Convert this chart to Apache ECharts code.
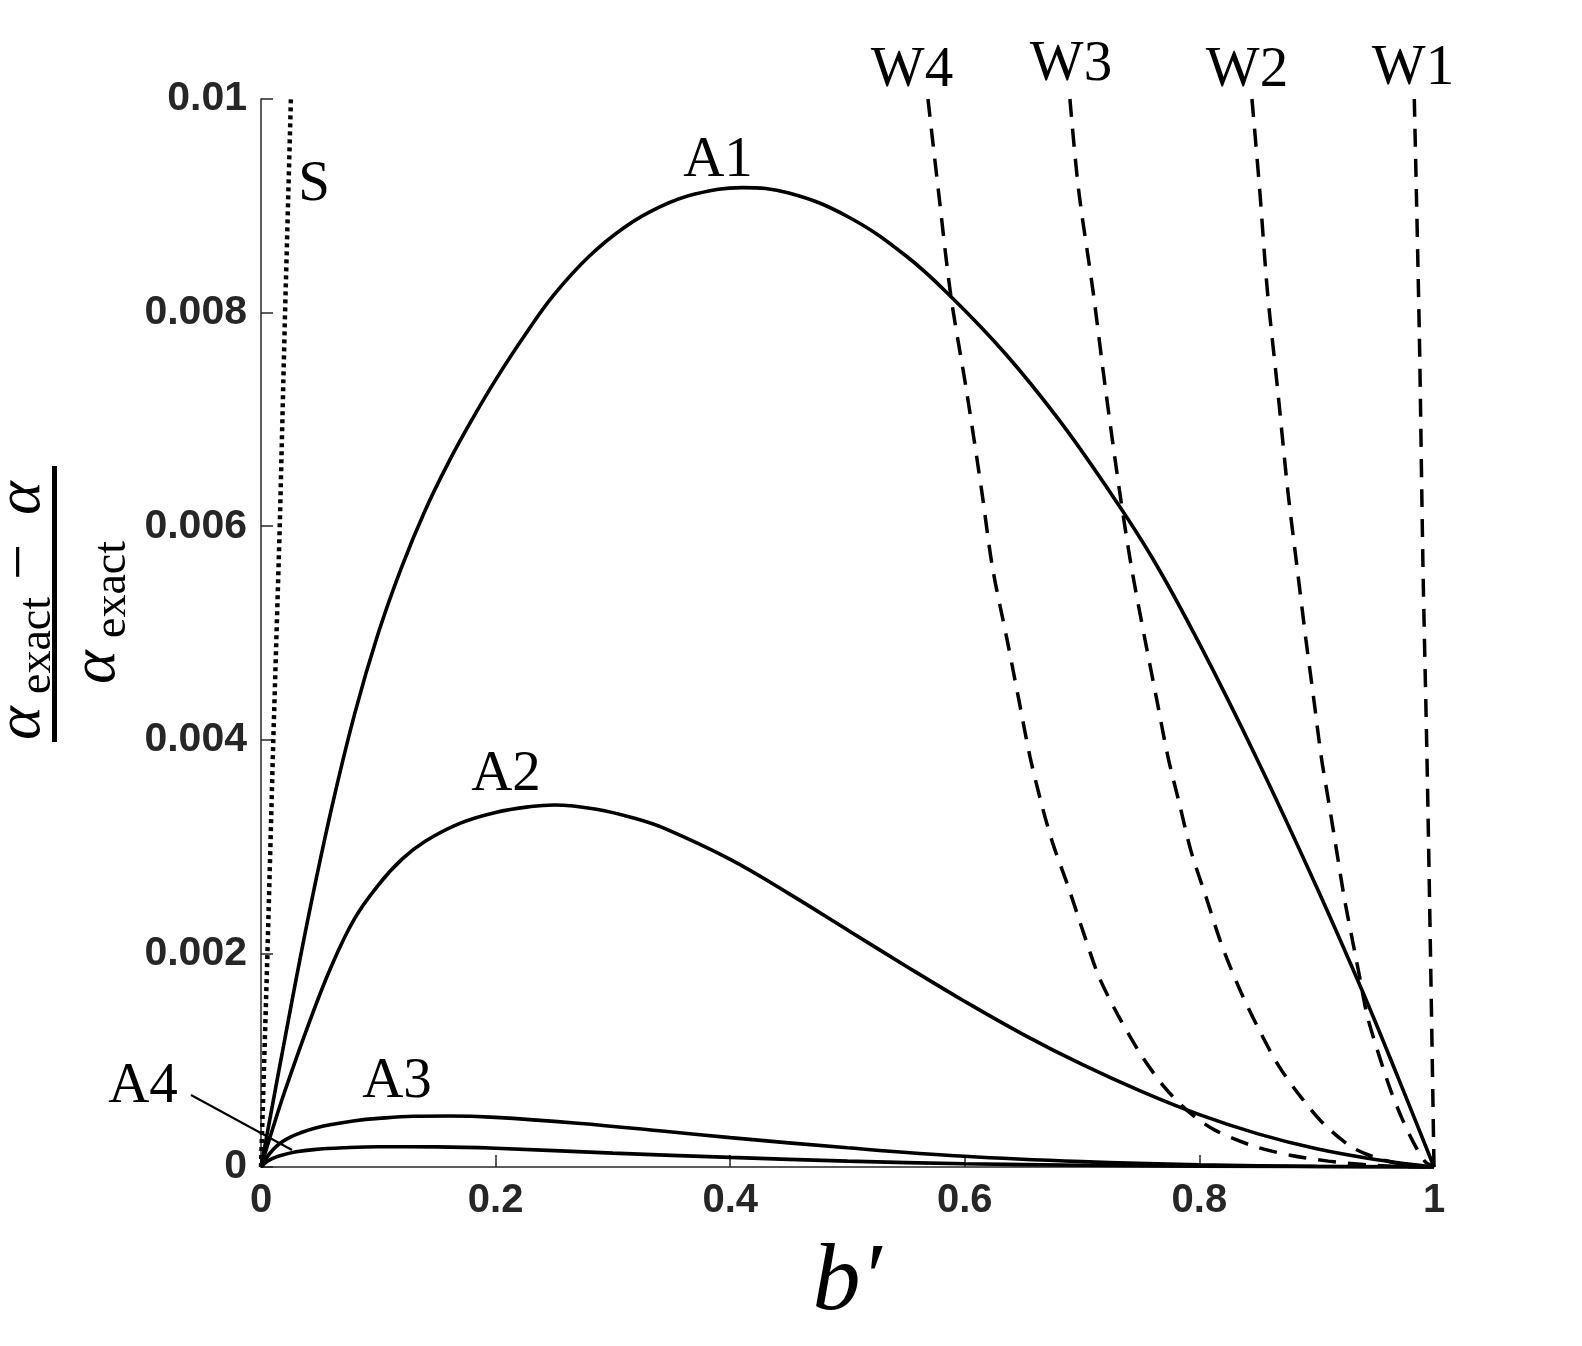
<!DOCTYPE html>
<html>
<head>
<meta charset="utf-8">
<script src="https://cdn.jsdelivr.net/npm/echarts/dist/echarts.min.js"></script>
<style>
html, body { margin: 0; padding: 0; background: #fff; }
#chart { width: 1582px; height: 1346px; }
</style>
</head>
<body>
<div id="chart"></div>
<script>
// 坐标轴刻度
var xTicks = [0, 0.2, 0.4, 0.6, 0.8, 1];
var yTicks = [0, 0.002, 0.004, 0.006, 0.008, 0.01];

// 曲线数据 [b', 相对误差]
var curveA1 = [[0, 0], [0.02, 1.18e-3], [0.04, 2.32e-3], [0.06, 3.35e-3], [0.08, 4.25e-3],
    [0.10, 5.00e-3], [0.12, 5.62e-3], [0.14, 6.15e-3], [0.16, 6.60e-3], [0.18, 7.00e-3],
    [0.20, 7.37e-3], [0.225, 7.79e-3], [0.25, 8.17e-3], [0.28, 8.53e-3], [0.31, 8.80e-3],
    [0.34, 8.99e-3], [0.37, 9.11e-3], [0.41, 9.17e-3], [0.45, 9.12e-3], [0.50, 8.90e-3],
    [0.55, 8.53e-3], [0.59, 8.13e-3], [0.635, 7.61e-3], [0.68, 7.00e-3], [0.72, 6.38e-3],
    [0.76, 5.70e-3], [0.80, 4.90e-3], [0.85, 3.80e-3], [0.90, 2.62e-3], [0.94, 1.62e-3],
    [0.97, 0.82e-3], [1.0, 0]];
var curveA2 = [[0, 0], [0.01, 0.36e-3], [0.02, 0.70e-3], [0.04, 1.32e-3], [0.06, 1.88e-3],
    [0.08, 2.33e-3], [0.10, 2.64e-3], [0.12, 2.88e-3], [0.14, 3.05e-3], [0.17, 3.22e-3],
    [0.20, 3.32e-3], [0.23, 3.375e-3], [0.25, 3.39e-3], [0.286, 3.35e-3], [0.32, 3.26e-3],
    [0.344, 3.17e-3], [0.40, 2.88e-3], [0.45, 2.56e-3], [0.50, 2.22e-3], [0.55, 1.88e-3],
    [0.60, 1.55e-3], [0.65, 1.24e-3], [0.70, 0.96e-3], [0.75, 0.71e-3], [0.80, 0.49e-3],
    [0.85, 0.31e-3], [0.90, 0.17e-3], [0.95, 0.07e-3], [1.0, 0]];
var curveA3 = [[0, 0], [0.005, 0.09e-3], [0.01, 0.16e-3], [0.016, 0.22e-3], [0.025, 0.28e-3],
    [0.035, 0.325e-3], [0.045, 0.36e-3], [0.06, 0.397e-3], [0.08, 0.433e-3], [0.10, 0.455e-3],
    [0.13, 0.475e-3], [0.16, 0.478e-3], [0.2, 0.465e-3], [0.27, 0.41e-3], [0.344, 0.335e-3],
    [0.4, 0.275e-3], [0.5, 0.18e-3], [0.6, 0.10e-3], [0.7, 0.05e-3], [0.8, 0.02e-3],
    [0.9, 0.006e-3], [1.0, 0]];
var curveA4 = [[0, 0], [0.005, 0.05e-3], [0.01, 0.08e-3], [0.016, 0.105e-3], [0.03, 0.142e-3],
    [0.045, 0.163e-3], [0.07, 0.18e-3], [0.10, 0.19e-3], [0.15, 0.188e-3], [0.2, 0.175e-3],
    [0.3, 0.13e-3], [0.4, 0.09e-3], [0.5, 0.055e-3], [0.6, 0.03e-3], [0.7, 0.017e-3],
    [0.8, 0.008e-3], [1.0, 0]];
var curveS = [[0, 0], [0.0055, 2.0e-3], [0.0105, 4.0e-3], [0.016, 6.0e-3], [0.0205, 8.0e-3], [0.0255, 10.0e-3]];
var curveW4 = [[0.5686, 10e-3], [0.5774, 9.15e-3], [0.5882, 8.15e-3], [0.6013, 7.28e-3], [0.6143, 6.34e-3],
    [0.6235, 5.62e-3], [0.636, 4.94e-3], [0.6458, 4.39e-3], [0.6556, 3.84e-3], [0.6654, 3.40e-3],
    [0.675, 3.03e-3], [0.688, 2.63e-3], [0.7013, 2.19e-3], [0.7144, 1.78e-3], [0.7307, 1.42e-3],
    [0.7503, 1.05e-3], [0.770, 0.75e-3], [0.7895, 0.53e-3], [0.8124, 0.35e-3], [0.845, 0.20e-3],
    [0.8775, 0.11e-3], [0.910, 0.055e-3], [0.943, 0.02e-3], [0.986, 0], [1.0, 0]];
var curveW3 = [[0.6896, 10e-3], [0.697, 9.15e-3], [0.7092, 8.21e-3], [0.720, 7.28e-3], [0.7318, 6.34e-3],
    [0.742, 5.62e-3], [0.7536, 4.94e-3], [0.7634, 4.39e-3], [0.7732, 3.84e-3], [0.783, 3.40e-3],
    [0.7928, 2.96e-3], [0.8059, 2.52e-3], [0.819, 2.08e-3], [0.8353, 1.64e-3], [0.8516, 1.27e-3],
    [0.868, 0.94e-3], [0.8876, 0.64e-3], [0.9072, 0.39e-3], [0.9333, 0.165e-3], [0.966, 0.04e-3],
    [0.995, 0], [1.0, 0]];
var curveW2 = [[0.8448, 10e-3], [0.8514, 9.15e-3], [0.8579, 8.21e-3], [0.8667, 7.28e-3], [0.8753, 6.34e-3],
    [0.8832, 5.62e-3], [0.8908, 4.94e-3], [0.8974, 4.39e-3], [0.9039, 3.84e-3], [0.9105, 3.40e-3],
    [0.917, 2.96e-3], [0.9235, 2.52e-3], [0.930, 2.15e-3], [0.9366, 1.78e-3], [0.943, 1.42e-3],
    [0.953, 1.05e-3], [0.963, 0.72e-3], [0.9725, 0.46e-3], [0.982, 0.24e-3], [0.992, 0.055e-3], [1.0, 0]];
var curveW1 = [[0.9832, 10e-3], [0.9875, 7.8e-3], [0.9906, 5.62e-3], [0.994, 3.84e-3], [0.997, 2.0e-3], [1.0, 0]];

var tickFont = '"Liberation Sans", Arial, Helvetica, sans-serif';
var mathFont = '"Liberation Serif", "Times New Roman", serif';

var chart = echarts.init(document.getElementById('chart'));

// 线型
function solid(name, data) {
    return {
        name: name, type: 'line', data: data, showSymbol: false, smooth: 0.4, z: 4,
        lineStyle: { color: '#000', width: 3.6 }
    };
}
function dashed(name, data) {
    return {
        name: name, type: 'line', data: data, showSymbol: false, smooth: 0.3, z: 3,
        lineStyle: { color: '#000', width: 3.5, type: [18, 12] }
    };
}

// 曲线标注
function curveLabel(text, x, y) {
    return {
        type: 'text', x: x, y: y, z: 10,
        style: {
            text: text, fontFamily: mathFont, fontSize: 57, fill: '#000',
            align: 'center', verticalAlign: 'middle', textAlign: 'center', textVerticalAlign: 'middle'
        }
    };
}

// 纵轴分式中的文字（按基线放置）
function mathText(text, x, baseline, size, italic) {
    return {
        type: 'text', x: x, y: baseline - 0.32 * size,
        style: {
            text: text, fontFamily: mathFont, fontSize: size, fontStyle: italic ? 'italic' : 'normal',
            fill: '#000', align: 'left', verticalAlign: 'middle', textAlign: 'left', textVerticalAlign: 'middle'
        }
    };
}

var option = {
    animation: false,
    backgroundColor: '#fff',
    grid: { left: 261, right: 148, top: 99, bottom: 179, containLabel: false, outerBoundsMode: 'none' },
    xAxis: {
        type: 'value',
        min: xTicks[0], max: xTicks[xTicks.length - 1], interval: 0.2,
        axisLine: { show: true, lineStyle: { color: '#262626', width: 1.5 } },
        axisTick: { show: true, inside: true, length: 12, lineStyle: { color: '#262626', width: 1.5 } },
        splitLine: { show: false },
        axisLabel: { color: '#262626', fontFamily: tickFont, fontWeight: 'bold', fontSize: 40, margin: 14 }
    },
    yAxis: {
        type: 'value',
        min: yTicks[0], max: yTicks[yTicks.length - 1], interval: 0.002,
        axisLine: { show: true, lineStyle: { color: '#262626', width: 1.5 } },
        axisTick: { show: true, inside: true, length: 12, lineStyle: { color: '#262626', width: 1.5 } },
        splitLine: { show: false },
        axisLabel: { color: '#262626', fontFamily: tickFont, fontWeight: 'bold', fontSize: 41, margin: 14 }
    },
    series: [
        {
            name: 'S', type: 'line', data: curveS, showSymbol: false, z: 3,
            lineStyle: { color: '#000', width: 4.5, type: [4, 4], cap: 'butt' }
        },
        dashed('W4', curveW4),
        dashed('W3', curveW3),
        dashed('W2', curveW2),
        dashed('W1', curveW1),
        solid('A1', curveA1),
        solid('A2', curveA2),
        solid('A3', curveA3),
        solid('A4', curveA4)
    ],
    graphic: [
        curveLabel('A1', 718, 161),
        curveLabel('A2', 506, 775),
        curveLabel('A3', 397, 1082),
        curveLabel('A4', 143, 1087),
        curveLabel('S', 314, 185),
        curveLabel('W4', 912, 71),
        curveLabel('W3', 1071, 65),
        curveLabel('W2', 1247, 71),
        curveLabel('W1', 1413, 69),
        // A4 引线
        {
            type: 'line', z: 10,
            shape: { x1: 191, y1: 1095, x2: 292, y2: 1150 },
            style: { stroke: '#000', lineWidth: 2 }
        },
        // 横轴名称 b′
        {
            type: 'text', x: 847, y: 1284, z: 10,
            style: {
                text: 'b\u2032', fontFamily: mathFont, fontStyle: 'italic', fontSize: 96, fill: '#000',
                align: 'center', verticalAlign: 'middle', textAlign: 'center', textVerticalAlign: 'middle'
            }
        },
        // 纵轴名称：(α_exact − α) / α_exact
        {
            type: 'group', x: 55, y: 604, rotation: Math.PI / 2, z: 10,
            children: [
                { type: 'rect', shape: { x: -138, y: -3, width: 276, height: 5 }, style: { fill: '#000' } },
                mathText('\u03b1', -136, -12, 64, true),
                mathText('exact', -90, -2, 46, false),
                mathText('\u2212', 24, -12, 64, false),
                mathText('\u03b1', 89, -12, 64, true),
                mathText('\u03b1', -80, 63, 64, true),
                mathText('exact', -34, 73, 46, false)
            ]
        }
    ]
};

chart.setOption(option);

window.addEventListener('resize', function() {
    chart.resize();
});
</script>
</body>
</html>
